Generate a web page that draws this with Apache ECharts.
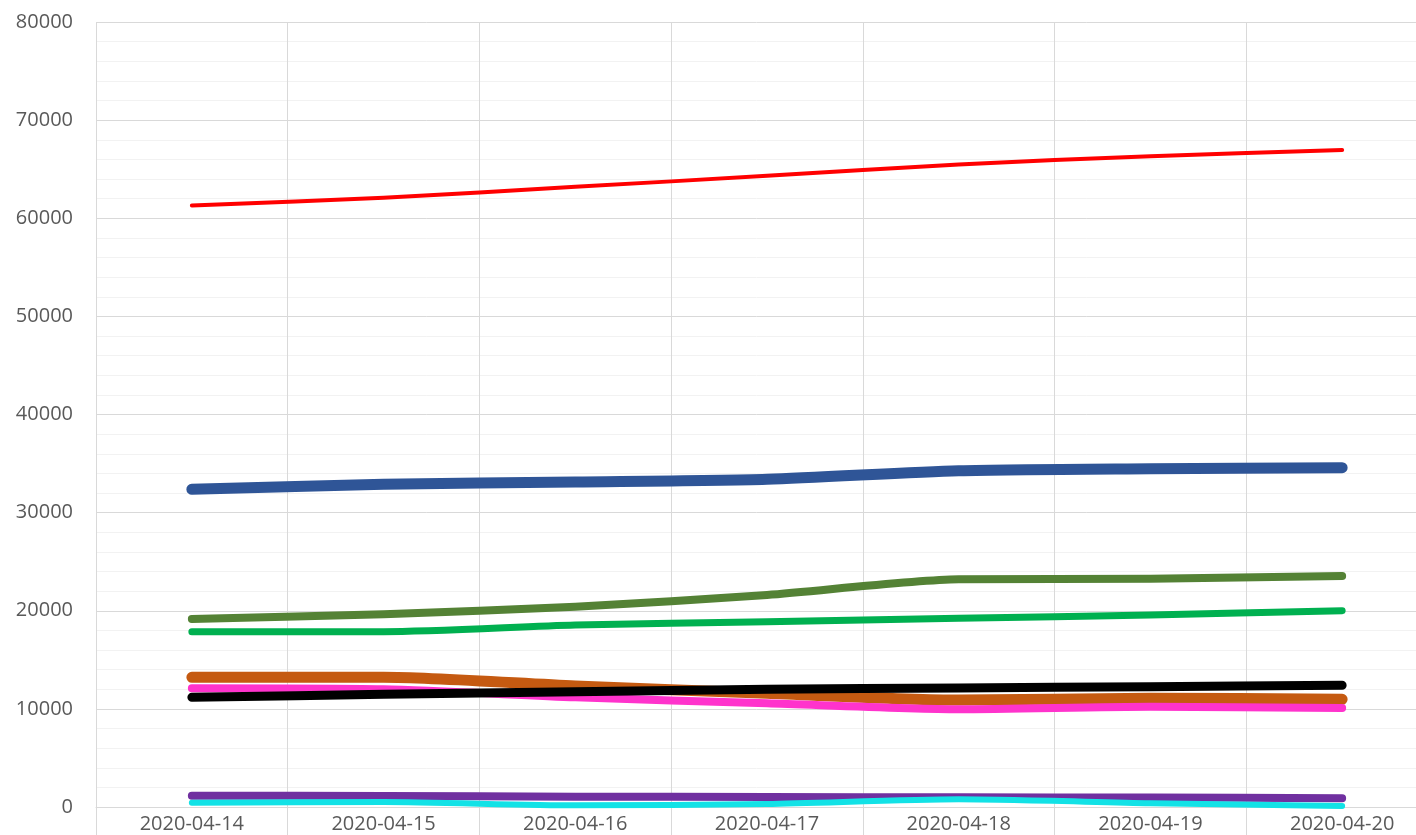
<!DOCTYPE html>
<html>
<head>
<meta charset="utf-8">
<script src="https://cdn.jsdelivr.net/npm/echarts@6/dist/echarts.min.js"></script>
<style>html,body{margin:0;padding:0;background:#fff;overflow:hidden;}#c{width:1416px;height:835px;}</style>
</head>
<body>
<div id="c"></div>
<script>
const categories = ['2020-04-14','2020-04-15','2020-04-16','2020-04-17','2020-04-18','2020-04-19','2020-04-20'];
const redValues    = [61300, 62080, 63200, 64320, 65480, 66330, 66950];
const blueValues   = [32380, 32890, 33120, 33400, 34270, 34480, 34580];
const oliveValues  = [19160, 19640, 20410, 21600, 23200, 23270, 23540];
const greenValues  = [17870, 17870, 18550, 18890, 19230, 19570, 20010];
const orangeValues = [13220, 13220, 12330, 11590, 10900, 11080, 10980];
const pinkValues   = [12100, 11990, 11180, 10570, 9960, 10220, 10090];
const blackValues  = [11180, 11490, 11750, 11990, 12130, 12260, 12400];
const purpleValues = [1150, 1120, 1050, 1020, 990, 960, 890];
const cyanValues   = [440, 510, 170, 310, 780, 380, 100];

const seriesDefs = [
  {data: redValues,    color: '#FF0000', width: 4},
  {data: blueValues,   color: '#2F5597', width: 11},
  {data: oliveValues,  color: '#548235', width: 8},
  {data: greenValues,  color: '#00B050', width: 7},
  {data: orangeValues, color: '#C55A11', width: 11},
  {data: pinkValues,   color: '#FF33CC', width: 8},
  {data: blackValues,  color: '#000000', width: 9},
  {data: purpleValues, color: '#7030A0', width: 8},
  {data: cyanValues,   color: '#12E2E6', width: 6}
];

const chart = echarts.init(document.getElementById('c'), null, {renderer: 'canvas'});
chart.setOption({
  animation: false,
  backgroundColor: '#ffffff',
  grid: {left: 96, width: 1342, top: 22, height: 785, containLabel: false, outerBoundsMode: 'none'},
  xAxis: {
    type: 'category',
    data: categories,
    boundaryGap: true,
    axisLine: {show: true, lineStyle: {color: '#D9D9D9', width: 1}},
    axisTick: {show: true, length: 30, lineStyle: {color: '#D9D9D9', width: 1}},
    axisLabel: {color: '#595959', fontFamily: 'Open Sans', fontSize: 20, margin: 7},
    splitLine: {show: true, lineStyle: {color: '#D9D9D9', width: 1}}
  },
  yAxis: {
    type: 'value',
    min: 0, max: 80000, interval: 10000,
    axisLine: {show: false},
    axisTick: {show: false},
    axisLabel: {color: '#595959', fontFamily: 'Open Sans', fontSize: 20, margin: 23,
                formatter: v => String(v)},
    splitLine: {show: true, lineStyle: {color: '#D9D9D9', width: 1}},
    minorTick: {show: false, splitNumber: 5},
    minorSplitLine: {show: true, lineStyle: {color: '#F2F2F2', width: 1}}
  },
  series: seriesDefs.map((s, i) => ({
    type: 'line',
    data: s.data,
    smooth: 0.25,
    showSymbol: false,
    symbol: 'none',
    z: 2 + i,
    lineStyle: {color: s.color, width: s.width, cap: 'round', join: 'round'},
    emphasis: {disabled: true}
  }))
});
</script>
</body>
</html>
